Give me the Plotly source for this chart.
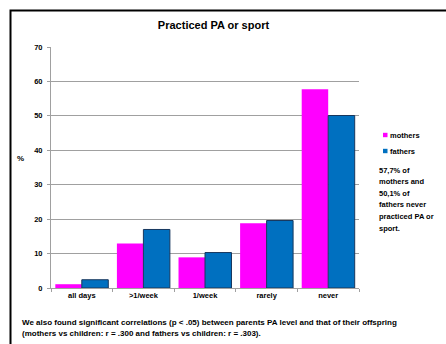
import plotly.graph_objects as go

categories = ["all days", ">1/week", "1/week", "rarely", "never"]
series_names = ["mothers", "fathers"]
mothers = [1.1, 12.9, 8.9, 18.8, 57.7]
fathers = [2.4, 17.0, 10.3, 19.6, 50.1]
colors = ["#FF00FF", "#0070C0"]
y_ticks = [0, 10, 20, 30, 40, 50, 60, 70]
title_text = "Practiced PA or sport"
note_lines = ["57,7% of", "mothers and", "50,1% of", "fathers never", "practiced PA or", "sport."]
footnote_lines = [
    "We also found significant correlations (p < .05) between parents PA level and that of their offspring",
    "(mothers vs children: r = .300 and fathers vs children: r = .303).",
]

W, H = 446, 344
L, R, T, B = 51, 359, 47, 288
PW, PH = R - L, B - T

def px(x):
    return (x - L) / PW

def py(y):
    return (B - y) / PH

FONT = "Liberation Sans, Arial, sans-serif"

fig = go.Figure()
fig.add_trace(go.Bar(x=categories, y=mothers, name=series_names[0],
                     marker=dict(color=colors[0], line=dict(width=0)), showlegend=False))
fig.add_trace(go.Bar(x=categories, y=fathers, name=series_names[1],
                     marker=dict(color=colors[1], line=dict(width=1, color="#17375E")), showlegend=False))

annotations = []
shapes = []

# outer frame
shapes.append(dict(type="rect", xref="paper", yref="paper",
                   x0=px(10.5), x1=px(460), y0=py(360), y1=py(10.5),
                   line=dict(color="black", width=2), fillcolor="rgba(0,0,0,0)", layer="above"))

# y label
annotations.append(dict(text="%", xref="paper", yref="paper", x=px(20.5), y=py(158),
                        xanchor="center", yanchor="middle", showarrow=False,
                        font=dict(size=8, family=FONT, weight="bold", color="black")))

# manual legend
for i, (nm, c) in enumerate(zip(series_names, colors)):
    yc = 135 + 16 * i
    shapes.append(dict(type="rect", xref="paper", yref="paper",
                       x0=px(383), x1=px(387.5), y0=py(yc + 2.2), y1=py(yc - 2.2),
                       fillcolor=c, line=dict(width=0)))
    annotations.append(dict(text=nm, xref="paper", yref="paper", x=px(388), y=py(yc),
                            xanchor="left", yanchor="middle", showarrow=False,
                            font=dict(size=7.5, family=FONT, weight="bold", color="black")))

# side note
for i, line in enumerate(note_lines):
    annotations.append(dict(text=line, xref="paper", yref="paper", x=px(376.5), y=py(170 + 11.65 * i),
                            xanchor="left", yanchor="middle", showarrow=False,
                            font=dict(size=7.5, family=FONT, weight="bold", color="black")))

# footnote
for i, line in enumerate(footnote_lines):
    annotations.append(dict(text=line, xref="paper", yref="paper", x=px(19.5), y=py(322 + 11.5 * i),
                            xanchor="left", yanchor="middle", showarrow=False,
                            font=dict(size=8, family=FONT, weight="bold", color="black")))

fig.update_layout(
    width=W, height=H,
    margin=dict(l=L, r=W - R, t=T, b=H - B, pad=0),
    paper_bgcolor="white", plot_bgcolor="white",
    barmode="group", bargap=0.14, bargroupgap=0,
    title=dict(text=title_text, x=213.5 / W, xanchor="center", y=1 - 25 / H, yanchor="middle",
               font=dict(size=11, family=FONT, weight="bold", color="black")),
    font=dict(family=FONT, color="black"),
    shapes=shapes, annotations=annotations,
    showlegend=False,
)
fig.update_xaxes(showline=True, linecolor="#A0A0A0", linewidth=1,
                 ticks="outside", tickson="boundaries", ticklen=3, tickcolor="#A0A0A0",
                 tickfont=dict(size=7.5, family=FONT, weight="bold", color="black"),
                 showgrid=False)
fig.update_yaxes(range=[0, 70], tickvals=y_ticks, showline=True, linecolor="#A0A0A0", linewidth=1,
                 ticks="outside", ticklen=3, tickcolor="#A0A0A0", ticklabelstandoff=3,
                 showgrid=True, gridcolor="#A0A0A0", gridwidth=1, zeroline=False,
                 tickfont=dict(size=7.5, family=FONT, weight="bold", color="black"))

fig.write_html("out.html")
